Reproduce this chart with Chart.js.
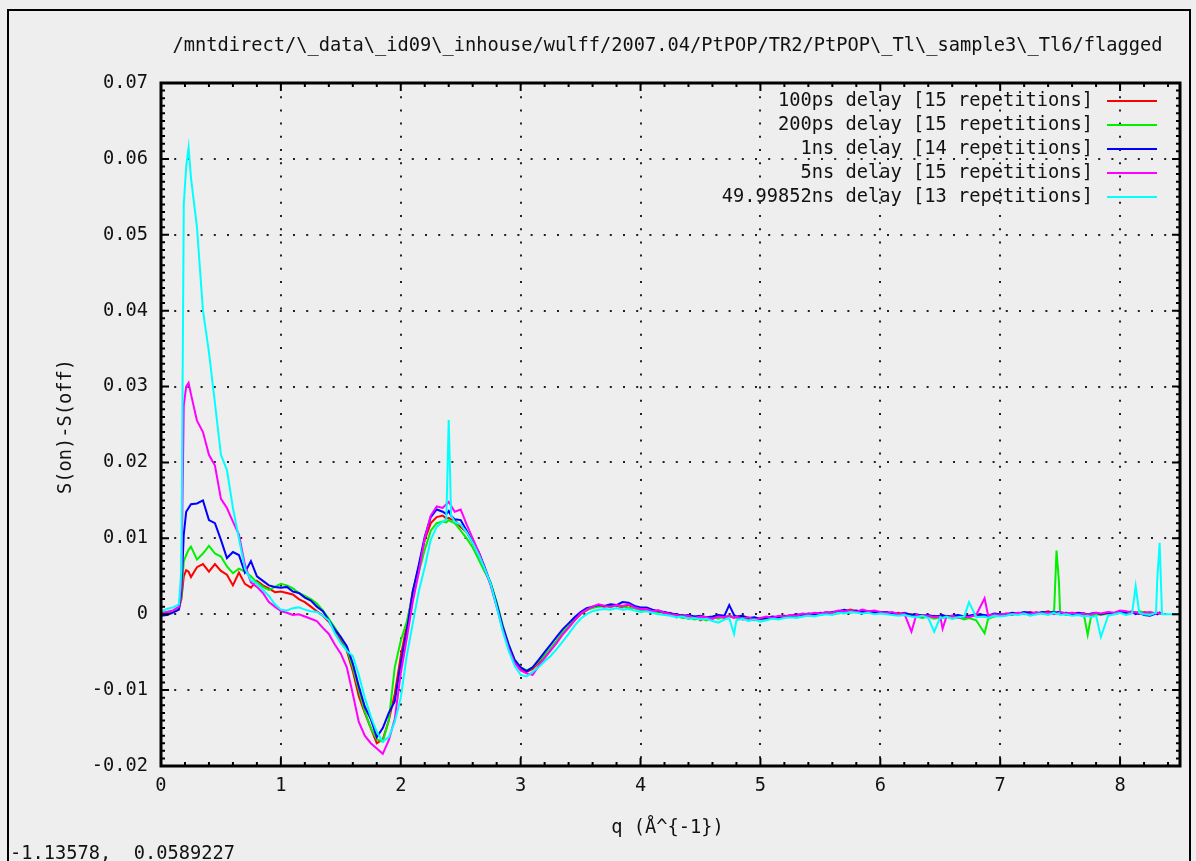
<!DOCTYPE html>
<html lang="en">
<head>
    <meta charset="UTF-8">
    <title>PtPOP flagged</title>
    <script src="https://cdn.jsdelivr.net/npm/chart.js@4.4.0/dist/chart.umd.min.js"></script>
    <style>
        html, body { margin: 0; padding: 0; background: #eeeeee; overflow: hidden; }
        #myChart { display: block; }
    </style>
</head>
<body>
<canvas id="myChart" width="1196" height="861"></canvas>
<script>
    // q grid (A^-1), shared by every curve
    var qValues = [
        0, 0.05, 0.1, 0.15, 0.17, 0.19, 0.21, 0.23, 0.25,
        0.3, 0.35, 0.4, 0.45, 0.5, 0.55, 0.6, 0.65, 0.7, 0.75, 0.8, 0.85, 0.9, 0.95, 1.0,
        1.05, 1.1, 1.15, 1.2, 1.25, 1.3, 1.35, 1.4, 1.45, 1.5, 1.55, 1.6, 1.65, 1.7, 1.75, 1.8, 1.85, 1.9, 1.95, 2.0,
        2.05, 2.1, 2.15, 2.2, 2.25, 2.3, 2.35, 2.38, 2.4, 2.42, 2.45,
        2.5, 2.55, 2.6, 2.65, 2.7, 2.75, 2.8, 2.85, 2.9, 2.95, 3.0, 3.05, 3.1, 3.15, 3.2, 3.25, 3.3, 3.35, 3.4, 3.45,
        3.5, 3.55, 3.6, 3.65, 3.7, 3.75, 3.8, 3.85, 3.9, 3.95, 4.0,
        4.05, 4.1, 4.15, 4.2, 4.25, 4.3, 4.35, 4.4, 4.45, 4.5, 4.55, 4.6, 4.65, 4.7, 4.74, 4.78, 4.8, 4.85, 4.9, 4.95, 5.0,
        5.05, 5.1, 5.15, 5.2, 5.25, 5.3, 5.35, 5.4, 5.45, 5.5, 5.55, 5.6, 5.65, 5.7, 5.75, 5.8, 5.85, 5.9, 5.95, 6.0,
        6.05, 6.1, 6.15, 6.2, 6.26, 6.3, 6.35, 6.4, 6.45, 6.5, 6.52, 6.55, 6.6, 6.65, 6.7, 6.74, 6.8, 6.87, 6.9, 6.95, 7.0,
        7.05, 7.1, 7.15, 7.2, 7.25, 7.3, 7.35, 7.4, 7.45, 7.47, 7.49, 7.5, 7.55, 7.6, 7.65, 7.7, 7.73, 7.76, 7.8, 7.84, 7.9,
        7.95, 8.0, 8.05, 8.1, 8.13, 8.16, 8.2, 8.25, 8.3, 8.31, 8.33, 8.35, 8.5
    ];

    // S(on)-S(off) for each delay
    var delay100ps = [
        0.0000, 0.0002, 0.0004, 0.0008, 0.0020, 0.0050, 0.0058, 0.0056, 0.0049,
        0.0062, 0.0066, 0.0056, 0.0066, 0.0057, 0.0052, 0.0038, 0.0055, 0.0040, 0.0035, 0.0044, 0.0038, 0.0034, 0.0029, 0.0030,
        0.0028, 0.0026, 0.0020, 0.0016, 0.0010, 0.0004, -0.0002, -0.0010, -0.0022, -0.0034, -0.0048, -0.0075, -0.0108, -0.0130, -0.0150, -0.0170, -0.0165, -0.0140, -0.0105, -0.0055,
        -0.0015, 0.0030, 0.0062, 0.0098, 0.0120, 0.0128, 0.0130, 0.0126, 0.0127, 0.0125, 0.0124,
        0.0115, 0.0108, 0.0094, 0.0078, 0.0058, 0.0040, 0.0012, -0.0018, -0.0042, -0.0062, -0.0072, -0.0076, -0.0072, -0.0064, -0.0055, -0.0046, -0.0036, -0.0026, -0.0017, -0.0008,
        0.0000, 0.0005, 0.0009, 0.0011, 0.0010, 0.0012, 0.0011, 0.0009, 0.0012, 0.0008, 0.0006,
        0.0006, 0.0003, 0.0005, 0.0001, 0.0002, -0.0004, -0.0001, -0.0006, -0.0003, -0.0008, -0.0004, -0.0006, -0.0003, -0.0005, -0.0002, -0.0004, -0.0003, -0.0007, -0.0005, -0.0008, -0.0006,
        -0.0004, -0.0006, -0.0003, -0.0004, -0.0001, -0.0003, 0.0000, -0.0002, 0.0001, 0.0000, 0.0003, 0.0001, 0.0004, 0.0003, 0.0006, 0.0004, 0.0005, 0.0002, 0.0004, 0.0002,
        0.0003, 0.0000, 0.0002, -0.0001, 0.0000, -0.0003, -0.0001, -0.0004, -0.0002, -0.0005, -0.0003, -0.0002, -0.0004, -0.0002, -0.0005, -0.0003, -0.0001, -0.0003, -0.0002, 0.0000, -0.0002,
        0.0001, -0.0001, 0.0002, 0.0000, 0.0003, 0.0001, 0.0002, 0.0004, 0.0001, 0.0002, 0.0003, 0.0002, 0.0000, 0.0002, -0.0001, 0.0001, 0.0000, -0.0002, 0.0001, 0.0000, 0.0002,
        0.0001, 0.0003, 0.0002, 0.0004, 0.0002, 0.0001, 0.0003, 0.0001, 0.0002, 0.0001, 0.0002, 0.0001, null
    ];
    var delay200ps = [
        0.0001, 0.0003, 0.0004, 0.0009, 0.0025, 0.0070, 0.0078, 0.0085, 0.0089,
        0.0072, 0.0080, 0.0090, 0.0080, 0.0076, 0.0063, 0.0054, 0.0060, 0.0056, 0.0050, 0.0042, 0.0036, 0.0032, 0.0036, 0.0040,
        0.0038, 0.0034, 0.0028, 0.0024, 0.0020, 0.0014, 0.0005, -0.0006, -0.0018, -0.0030, -0.0045, -0.0070, -0.0100, -0.0128, -0.0150, -0.0165, -0.0168, -0.0140, -0.0070, -0.0035,
        -0.0010, 0.0025, 0.0055, 0.0085, 0.0110, 0.0120, 0.0122, 0.0121, 0.0124, 0.0122, 0.0120,
        0.0110, 0.0100, 0.0088, 0.0072, 0.0056, 0.0042, 0.0016, -0.0014, -0.0040, -0.0060, -0.0070, -0.0074, -0.0070, -0.0062, -0.0054, -0.0045, -0.0035, -0.0024, -0.0016, -0.0006,
        0.0001, 0.0006, 0.0008, 0.0010, 0.0011, 0.0009, 0.0012, 0.0010, 0.0008, 0.0009, 0.0005,
        0.0008, 0.0004, 0.0002, 0.0003, -0.0001, -0.0002, -0.0005, -0.0004, -0.0007, -0.0005, -0.0008, -0.0004, -0.0006, -0.0002, -0.0004, -0.0003, -0.0005, -0.0004, -0.0008, -0.0005, -0.0007,
        -0.0007, -0.0005, -0.0006, -0.0003, -0.0004, -0.0002, -0.0003, -0.0001, 0.0000, -0.0001, 0.0001, 0.0002, 0.0001, 0.0003, 0.0002, 0.0004, 0.0002, 0.0003, 0.0001, 0.0002,
        0.0001, 0.0002, -0.0001, 0.0000, -0.0002, -0.0003, -0.0005, -0.0003, -0.0006, -0.0004, -0.0005, -0.0003, -0.0006, -0.0004, -0.0007, -0.0005, -0.0008, -0.0025, -0.0006, -0.0003, -0.0002,
        -0.0001, 0.0001, 0.0000, 0.0002, -0.0001, 0.0001, 0.0003, 0.0001, 0.0004, 0.0084, 0.0043, 0.0002, -0.0001, 0.0001, 0.0000, -0.0002, -0.0027, -0.0001, 0.0000, -0.0001, 0.0001,
        0.0000, 0.0002, 0.0001, 0.0003, 0.0001, 0.0004, 0.0002, 0.0000, 0.0002, 0.0001, 0.0001, 0.0001, null
    ];
    var delay1ns = [
        -0.0002, -0.0001, 0.0002, 0.0006, 0.0030, 0.0105, 0.0135, 0.0140, 0.0145,
        0.0146, 0.0150, 0.0124, 0.0120, 0.0098, 0.0074, 0.0082, 0.0078, 0.0055, 0.0070, 0.0050, 0.0044, 0.0038, 0.0036, 0.0035,
        0.0036, 0.0030, 0.0028, 0.0022, 0.0018, 0.0010, 0.0004, -0.0008, -0.0020, -0.0030, -0.0042, -0.0065, -0.0095, -0.0122, -0.0138, -0.0162, -0.0150, -0.0130, -0.0115, -0.0065,
        -0.0022, 0.0030, 0.0065, 0.0102, 0.0128, 0.0138, 0.0135, 0.0132, 0.0136, 0.0130, 0.0125,
        0.0124, 0.0110, 0.0095, 0.0082, 0.0062, 0.0040, 0.0014, -0.0016, -0.0040, -0.0060, -0.0070, -0.0075, -0.0070, -0.0060, -0.0050, -0.0040, -0.0030, -0.0020, -0.0012, -0.0004,
        0.0003, 0.0008, 0.0010, 0.0012, 0.0011, 0.0013, 0.0012, 0.0016, 0.0015, 0.0011, 0.0009,
        0.0009, 0.0006, 0.0004, 0.0003, 0.0001, 0.0000, -0.0002, -0.0001, -0.0003, -0.0002, -0.0004, -0.0003, -0.0001, -0.0002, 0.0012, -0.0001, -0.0003, -0.0002, -0.0005, -0.0004, -0.0006,
        -0.0005, -0.0003, -0.0004, -0.0002, -0.0003, 0.0000, -0.0001, 0.0001, 0.0000, 0.0002, 0.0001, 0.0003, 0.0004, 0.0006, 0.0004, 0.0005, 0.0003, 0.0004, 0.0002, 0.0003,
        0.0003, 0.0001, 0.0000, 0.0002, -0.0001, 0.0000, -0.0002, -0.0001, -0.0003, -0.0002, -0.0001, -0.0003, -0.0002, -0.0001, -0.0003, -0.0002, 0.0000, -0.0001, -0.0002, 0.0001, 0.0000,
        0.0000, 0.0002, 0.0001, 0.0003, 0.0002, 0.0000, 0.0003, 0.0002, 0.0003, 0.0002, 0.0003, 0.0001, 0.0002, 0.0000, 0.0002, 0.0001, -0.0001, 0.0001, 0.0002, 0.0000, 0.0002,
        0.0001, 0.0004, 0.0002, 0.0003, 0.0000, 0.0002, -0.0001, -0.0002, 0.0001, 0.0000, 0.0002, 0.0001, null
    ];
    var delay5ns = [
        0.0002, 0.0003, 0.0005, 0.0010, 0.0040, 0.0275, 0.0300, 0.0305, 0.0290,
        0.0255, 0.0240, 0.0210, 0.0196, 0.0152, 0.0140, 0.0122, 0.0105, 0.0065, 0.0042, 0.0036, 0.0028, 0.0016, 0.0010, 0.0004,
        0.0002, -0.0001, 0.0000, -0.0003, -0.0006, -0.0009, -0.0018, -0.0026, -0.0040, -0.0052, -0.0070, -0.0105, -0.0142, -0.0160, -0.0170, -0.0177, -0.0184, -0.0166, -0.0138, -0.0078,
        -0.0032, 0.0016, 0.0055, 0.0100, 0.0130, 0.0142, 0.0140, 0.0145, 0.0148, 0.0143, 0.0135,
        0.0138, 0.0118, 0.0100, 0.0082, 0.0060, 0.0038, 0.0010, -0.0020, -0.0045, -0.0064, -0.0074, -0.0078, -0.0080, -0.0068, -0.0058, -0.0048, -0.0038, -0.0027, -0.0018, -0.0008,
        0.0001, 0.0006, 0.0010, 0.0013, 0.0011, 0.0010, 0.0012, 0.0011, 0.0013, 0.0009, 0.0007,
        0.0007, 0.0004, 0.0005, 0.0002, 0.0000, -0.0001, -0.0003, -0.0002, -0.0005, -0.0003, -0.0004, -0.0006, -0.0003, -0.0004, -0.0002, -0.0005, -0.0003, -0.0006, -0.0004, -0.0007, -0.0005,
        -0.0003, -0.0005, -0.0002, -0.0003, -0.0001, -0.0002, 0.0001, 0.0000, 0.0002, 0.0001, 0.0003, 0.0002, 0.0005, 0.0004, 0.0005, 0.0003, 0.0006, 0.0004, 0.0005, 0.0003,
        0.0002, 0.0003, 0.0000, 0.0001, -0.0023, -0.0001, -0.0003, -0.0002, -0.0004, -0.0003, -0.0019, -0.0004, -0.0002, -0.0005, -0.0003, -0.0004, -0.0001, 0.0021, -0.0002, 0.0000, -0.0001,
        0.0001, 0.0000, 0.0002, 0.0001, 0.0000, 0.0003, 0.0001, 0.0002, 0.0000, 0.0001, 0.0002, 0.0003, 0.0001, 0.0002, 0.0000, 0.0001, -0.0001, 0.0000, 0.0002, 0.0001, 0.0003,
        0.0002, 0.0005, 0.0004, 0.0002, 0.0003, 0.0001, 0.0002, 0.0003, 0.0001, 0.0002, 0.0001, 0.0002, null
    ];
    var delay50ns = [
        0.0003, 0.0007, 0.0009, 0.0013, 0.0060, 0.0540, 0.0590, 0.0615, 0.0575,
        0.0510, 0.0400, 0.0345, 0.0278, 0.0210, 0.0190, 0.0140, 0.0100, 0.0060, 0.0045, 0.0040, 0.0032, 0.0024, 0.0013, 0.0006,
        0.0005, 0.0008, 0.0009, 0.0006, 0.0004, 0.0003, -0.0002, -0.0008, -0.0025, -0.0038, -0.0048, -0.0055, -0.0080, -0.0110, -0.0135, -0.0155, -0.0168, -0.0162, -0.0142, -0.0110,
        -0.0055, -0.0012, 0.0030, 0.0062, 0.0098, 0.0115, 0.0122, 0.0125, 0.0256, 0.0130, 0.0122,
        0.0118, 0.0108, 0.0094, 0.0078, 0.0060, 0.0040, 0.0010, -0.0022, -0.0048, -0.0068, -0.0080, -0.0082, -0.0076, -0.0070, -0.0062, -0.0055, -0.0046, -0.0036, -0.0026, -0.0015,
        -0.0006, 0.0000, 0.0004, 0.0006, 0.0007, 0.0006, 0.0008, 0.0006, 0.0007, 0.0005, 0.0003,
        0.0004, 0.0002, 0.0000, -0.0001, -0.0002, -0.0004, -0.0003, -0.0006, -0.0005, -0.0007, -0.0006, -0.0009, -0.0011, -0.0007, -0.0005, -0.0026, -0.0008, -0.0006, -0.0009, -0.0007, -0.0010,
        -0.0008, -0.0006, -0.0007, -0.0005, -0.0004, -0.0005, -0.0003, -0.0002, -0.0003, -0.0001, 0.0000, -0.0001, 0.0002, 0.0001, 0.0003, 0.0002, 0.0001, 0.0002, 0.0000, 0.0001,
        0.0000, -0.0001, -0.0002, -0.0001, -0.0003, -0.0004, -0.0002, -0.0005, -0.0023, -0.0004, -0.0005, -0.0003, -0.0006, -0.0004, -0.0003, 0.0016, -0.0004, -0.0003, -0.0005, -0.0002, -0.0003,
        -0.0002, 0.0000, -0.0001, 0.0001, -0.0002, 0.0000, 0.0001, -0.0001, 0.0002, 0.0000, 0.0001, -0.0001, 0.0000, -0.0002, -0.0001, -0.0003, -0.0002, -0.0004, -0.0002, -0.0030, -0.0002,
        0.0000, 0.0002, -0.0001, 0.0001, 0.0037, 0.0002, 0.0000, -0.0001, 0.0002, 0.0045, 0.0094, 0.0000, 0.0000
    ];

    var seriesLabels = [
        '100ps delay [15 repetitions]',
        '200ps delay [15 repetitions]',
        '1ns delay [14 repetitions]',
        '5ns delay [15 repetitions]',
        '49.99852ns delay [13 repetitions]'
    ];
    var seriesColors = ['#ff0000', '#00f000', '#0000ff', '#ff00ff', '#00ffff'];
    var seriesValues = [delay100ps, delay200ps, delay1ns, delay5ns, delay50ns];

    var chartTitle = '/mntdirect/\\_data\\_id09\\_inhouse/wulff/2007.04/PtPOP/TR2/PtPOP\\_Tl\\_sample3\\_Tl6/flagged';
    var xTitle = 'q (Å^{-1})';
    var yTitle = 'S(on)-S(off)';
    var statusText = '-1.13578,  0.0589227';

    var FONT = "'DejaVu Sans Mono', monospace";
    var FONT_SIZE = 18.7;

    function toPoints(values) {
        return qValues.map(function (q, i) { return {x: q, y: values[i]}; });
    }

    var datasets = seriesValues.map(function (vals, i) {
        return {
            label: seriesLabels[i],
            data: toPoints(vals),
            borderColor: seriesColors[i],
            borderWidth: 2,
            pointRadius: 0,
            tension: 0,
            spanGaps: false,
            order: seriesValues.length - i   // later curves on top, like gnuplot
        };
    });

    // gnuplot look: background, frame, mirrored inward ticks, key, labels
    var gnuFrame = {
        id: 'gnuFrame',
        beforeDraw: function (chart) {
            var ctx = chart.ctx;
            ctx.save();
            ctx.fillStyle = '#eeeeee';
            ctx.fillRect(0, 0, chart.width, chart.height);
            ctx.restore();
        },
        afterDraw: function (chart) {
            var ctx = chart.ctx, a = chart.chartArea;
            var xs = chart.scales.x, ys = chart.scales.y;
            ctx.save();
            ctx.strokeStyle = '#000';
            ctx.lineWidth = 2;
            ctx.beginPath();
            for (var i = 0; i <= 42; i++) {
                var px = xs.getPixelForValue(i * 0.2);
                var lx = (i % 5 === 0) ? 8 : 4;
                ctx.moveTo(px, a.bottom); ctx.lineTo(px, a.bottom - lx);
                ctx.moveTo(px, a.top); ctx.lineTo(px, a.top + lx);
            }
            for (var j = 0; j <= 90; j++) {
                var py = ys.getPixelForValue(-0.02 + j * 0.001);
                var ly = (j % 10 === 0) ? 8 : 4;
                ctx.moveTo(a.left, py); ctx.lineTo(a.left + ly, py);
                ctx.moveTo(a.right, py); ctx.lineTo(a.right - ly, py);
            }
            ctx.stroke();
            ctx.lineWidth = 3;
            ctx.strokeRect(a.left, a.top, a.right - a.left, a.bottom - a.top);

            // outer window frame
            ctx.lineWidth = 2;
            ctx.strokeRect(8, 10, 1182, 900);

            ctx.fillStyle = '#111';
            ctx.font = FONT_SIZE + 'px ' + FONT;
            ctx.textBaseline = 'middle';

            ctx.textAlign = 'center';
            ctx.fillText(chartTitle, (a.left + a.right) / 2 - 3, 46);
            ctx.fillText(xTitle, (a.left + a.right) / 2 - 3, 828);

            ctx.save();
            ctx.translate(66, (a.top + a.bottom) / 2 + 2);
            ctx.rotate(-Math.PI / 2);
            ctx.fillText(yTitle, 0, 0);
            ctx.restore();

            // key: text right aligned, then sample line
            chart.data.datasets.forEach(function (ds, k) {
                var ky = 101 + 24 * k;
                ctx.textAlign = 'right';
                ctx.fillStyle = '#111';
                ctx.fillText(ds.label, a.right - 87, ky);
                ctx.strokeStyle = ds.borderColor;
                ctx.lineWidth = 2;
                ctx.beginPath();
                ctx.moveTo(a.right - 73, ky);
                ctx.lineTo(a.right - 23, ky);
                ctx.stroke();
            });

            ctx.textAlign = 'left';
            ctx.textBaseline = 'alphabetic';
            ctx.fillStyle = '#111';
            ctx.fillText(statusText, 10, 859);
            ctx.restore();
        }
    };

    var chartArea = document.getElementById('myChart').getContext('2d');
    var myChart = new Chart(chartArea, {
        type: 'line',
        data: {datasets: datasets},
        plugins: [gnuFrame],
        options: {
            responsive: false,
            devicePixelRatio: 1,
            animation: false,
            events: [],
            layout: {padding: {left: 0, right: 16, top: 83, bottom: 0}},
            plugins: {
                legend: {display: false},
                title: {display: false},
                tooltip: {enabled: false}
            },
            scales: {
                x: {
                    type: 'linear',
                    min: 0,
                    max: 8.5,
                    afterFit: function (scale) { scale.height = 95; },
                    ticks: {
                        stepSize: 1,
                        includeBounds: false,
                        maxRotation: 0,
                        autoSkip: false,
                        padding: 9,
                        color: '#111',
                        font: {family: FONT, size: FONT_SIZE},
                        callback: function (v) { return String(v); }
                    },
                    grid: {color: '#222', lineWidth: 2, drawTicks: false},
                    border: {display: false, dash: [2, 11.2]}
                },
                y: {
                    min: -0.02,
                    max: 0.07,
                    afterFit: function (scale) { scale.width = 161; },
                    ticks: {
                        stepSize: 0.01,
                        includeBounds: false,
                        autoSkip: false,
                        padding: 13,
                        color: '#111',
                        font: {family: FONT, size: FONT_SIZE},
                        callback: function (v) { return String(Math.round(v * 100) / 100); }
                    },
                    grid: {color: '#222', lineWidth: 2, drawTicks: false},
                    border: {display: false, dash: [2, 11.2]}
                }
            }
        }
    });
</script>
</body>
</html>
